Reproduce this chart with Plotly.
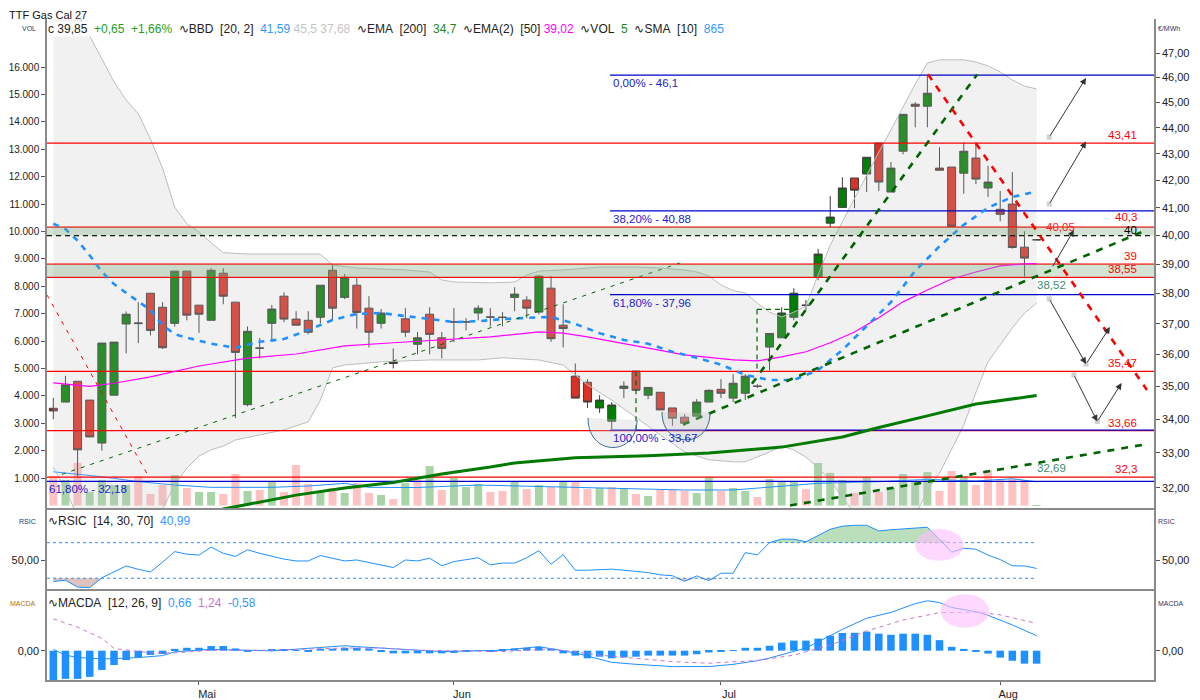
import numpy as np
import plotly.graph_objects as go

# daily candles, trading-day index 0..81
opens = [34.33, 34.52, 35.16, 34.58, 33.29, 34.73, 36.99, 37.00, 38.01, 37.54,
         37.01, 38.76, 37.61, 37.11, 38.69, 37.71, 34.44, 36.20, 37.01, 37.91,
         37.15, 37.11, 37.21, 38.79, 37.87, 38.28, 37.51, 37.01, 35.78, 37.16,
         36.33, 37.31, 36.54, 37.05, 37.05, 37.35, 37.21, 37.20, 37.87, 37.78,
         37.38, 38.18, 36.95, 35.32, 35.13, 34.34, 33.94, 34.94, 35.48, 34.73,
         34.82, 34.34, 34.06, 34.09, 34.52, 34.91, 34.64, 34.79, 35.00, 36.24,
         36.54, 37.21, 37.60, 38.56, 40.44, 41.01, 42.09, 42.24, 43.41, 41.57,
         43.10, 44.93, 44.85, 42.46, 42.50, 42.27, 42.84, 41.72, 40.94, 41.13,
         39.59, 39.85]
highs = [34.65, 35.33, 35.16, 34.58, 36.37, 36.40, 37.40, 37.71, 38.01, 37.71,
         38.76, 38.76, 37.61, 38.86, 38.86, 37.71, 36.91, 36.53, 37.61, 38.04,
         37.41, 37.41, 38.28, 39.00, 38.66, 38.55, 37.91, 37.48, 36.20, 37.51,
         36.73, 37.54, 36.73, 37.51, 37.18, 37.61, 37.51, 37.38, 38.21, 37.91,
         38.62, 38.59, 37.64, 35.72, 35.23, 34.73, 34.52, 35.16, 35.48, 34.97,
         34.82, 34.34, 34.15, 34.61, 34.91, 35.23, 35.38, 35.38, 35.07, 36.68,
         37.54, 38.18, 37.78, 39.53, 41.42, 42.12, 42.09, 42.87, 43.41, 42.69,
         44.53, 45.01, 46.10, 43.25, 42.50, 43.44, 43.44, 42.55, 41.61, 42.31,
         40.15, 39.85]
lows = [34.00, 34.52, 32.32, 33.47, 33.07, 34.73, 36.04, 36.37, 36.62, 36.18,
        36.90, 37.11, 36.70, 37.11, 37.64, 34.03, 34.39, 35.88, 36.44, 37.05,
        36.95, 36.65, 37.01, 37.11, 37.81, 36.84, 36.23, 36.84, 35.56, 36.57,
        36.01, 36.01, 35.88, 36.40, 36.78, 37.11, 36.91, 36.91, 37.41, 37.18,
        37.31, 36.41, 36.23, 34.64, 34.34, 34.19, 33.71, 34.64, 34.88, 34.61,
        34.28, 33.80, 33.80, 34.09, 34.52, 34.64, 34.52, 34.58, 34.95, 35.50,
        36.54, 37.11, 37.44, 38.45, 40.30, 41.01, 40.98, 41.57, 41.61, 41.57,
        42.98, 44.02, 44.02, 42.38, 40.33, 41.51, 41.86, 41.39, 40.51, 39.54,
        38.57, 39.85]
closes = [34.25, 35.05, 33.09, 33.47, 36.37, 36.40, 37.31, 37.02, 36.78, 36.22,
          38.76, 37.28, 37.31, 38.79, 37.91, 36.07, 36.75, 36.21, 37.48, 37.15,
          36.95, 36.72, 38.28, 37.51, 38.55, 37.37, 36.72, 37.35, 35.72, 36.72,
          36.54, 36.65, 36.20, 37.06, 37.06, 37.51, 37.22, 37.21, 37.98, 37.51,
          38.59, 36.51, 36.84, 34.64, 34.52, 34.58, 34.43, 35.01, 34.88, 34.97,
          34.28, 34.03, 33.88, 34.52, 34.88, 34.79, 35.10, 35.32, 35.01, 36.68,
          37.35, 38.01, 37.61, 39.35, 40.66, 41.72, 41.64, 42.87, 41.94, 42.46,
          44.53, 44.85, 45.37, 42.38, 40.33, 43.10, 42.05, 41.94, 40.76, 39.58,
          39.21, 39.85]
volumes = [1077, 930, 1560, 500, 930, 748, 748, 1077, 420, 748,
           1113, 639, 493, 493, 420, 1150, 530, 566, 858, 493,
           1478, 785, 493, 639, 457, 820, 457, 385, 237, 820,
           930, 1440, 566, 1004, 675, 785, 493, 530, 858, 602,
           748, 675, 894, 894, 602, 639, 675, 639, 420, 347,
           566, 602, 530, 457, 1040, 530, 639, 530, 310, 970,
           860, 895, 600, 1550, 1190, 930, 456, 1040, 493, 639,
           1150, 895, 1222, 530, 1259, 1077, 748, 1295, 967, 967,
           930, 5]
idx = list(range(len(closes)))

month_pos = [12, 33, 55, 78]
month_lbl = ["Mai", "Jun", "Jul", "Aug"]
price_ticks = list(range(32, 48))
vol_ticks = list(range(1000, 17000, 1000))

# Bollinger [20, 2]
bb_up_k = [0, 1, 2, 3, 4, 5, 6, 7, 8, 9, 10, 11, 12, 13, 14, 16, 22, 23, 25, 29,
           31, 32, 33, 36, 38, 39, 40, 42, 45, 48, 50, 52, 53, 54, 55, 56, 57, 58,
           59, 60, 61, 62, 63, 64, 65, 66, 67, 68, 69, 70, 71, 72, 73, 75, 76, 77,
           78, 79, 80, 81]
bb_up = [50.5, 50.0, 48.7, 47.73, 46.77, 45.83, 45.10, 44.55, 43.57, 42.46, 41.02,
         40.42, 40.13, 39.74, 39.40, 39.35, 39.35, 38.97, 38.87, 38.80, 38.73, 38.46,
         38.39, 38.36, 38.39, 38.63, 38.76, 38.80, 38.90, 38.90, 38.87, 38.80, 38.73,
         38.60, 38.29, 38.10, 38.02, 37.68, 37.38, 37.22, 37.38, 37.58, 38.63, 39.66,
         40.49, 41.35, 42.21, 43.07, 43.92, 44.82, 45.74, 46.60, 46.73, 46.73, 46.64,
         46.48, 46.23, 45.91, 45.66, 45.54]
bb_mid_k = [0, 1, 2, 3, 4, 5, 6, 7, 8, 9, 10, 11, 13, 15, 17, 19, 21, 23, 25, 27,
            29, 31, 33, 35, 37, 39, 41, 43, 45, 47, 49, 51, 53, 55, 57, 59, 61, 63,
            65, 67, 69, 71, 73, 75, 77, 79, 81]
bb_mid = [40.42, 40.23, 39.82, 39.30, 38.74, 38.32, 38.02, 37.72, 37.45, 36.95, 36.66,
          36.54, 36.35, 36.22, 36.41, 36.50, 36.79, 37.12, 37.32, 37.35, 37.25, 37.15,
          37.05, 37.08, 37.15, 37.19, 37.22, 36.99, 36.69, 36.47, 36.35, 36.09, 35.90,
          35.68, 35.36, 35.20, 35.20, 35.51, 36.15, 36.92, 37.71, 38.77, 39.62, 40.38,
          41.00, 41.39, 41.59]
bb_lo_k = [0, 1, 2, 3, 5, 7, 8, 9, 10, 11, 12, 13, 14, 15, 17, 19, 21, 22, 23, 24,
           27, 29, 31, 35, 37, 40, 42, 43, 44, 46, 48, 50, 52, 54, 56, 57, 59, 60,
           61, 62, 63, 64, 65, 66, 67, 69, 71, 72, 73, 74, 75, 76, 77, 78, 79, 80, 81]
bb_lo = [32.59, 31.93, 31.2, 30.6, 30.2, 30.6, 31.0, 31.4, 32.08, 32.56, 32.91, 33.09,
         33.20, 33.38, 33.53, 33.68, 33.92, 34.58, 35.58, 35.67, 35.77, 35.80, 35.83,
         35.83, 35.90, 35.83, 35.67, 35.36, 35.05, 34.58, 34.04, 33.53, 33.03, 32.80,
         32.74, 32.74, 33.03, 33.20, 33.09, 32.88, 32.56, 32.22, 31.71, 31.3, 30.8,
         30.3, 31.2, 31.93, 32.41, 33.10, 33.82, 34.81, 35.77, 36.31, 36.86, 37.35,
         37.68]

ema50_k = [0, 3, 5, 8, 12, 16, 20, 24, 28, 32, 36, 40, 42, 44, 48, 52, 56, 58, 60,
           62, 64, 66, 68, 70, 72, 74, 76, 78, 80, 81]
ema50 = [35.11, 35.00, 35.10, 35.30, 35.64, 35.89, 36.02, 36.28, 36.38, 36.47, 36.57,
         36.73, 36.69, 36.57, 36.28, 35.99, 35.83, 35.80, 35.93, 36.09, 36.38, 36.73,
         37.19, 37.72, 38.12, 38.49, 38.73, 38.94, 39.01, 39.02]
ema200_k = [10, 14, 20, 24, 28, 32, 36, 38, 43, 49, 54, 60, 65, 68, 72, 76, 81]
ema200 = [31.1, 31.40, 31.79, 31.99, 32.15, 32.39, 32.59, 32.71, 32.86, 32.92, 33.00,
          33.17, 33.47, 33.75, 34.10, 34.46, 34.72]
volsma_k = [0, 4, 7, 10, 13, 18, 21, 24, 26, 30, 35, 43, 52, 56, 60, 63, 68, 72, 76,
            79, 81]
volsma = [1230, 1050, 870, 748, 664, 664, 712, 810, 664, 657, 748, 664, 566, 566, 712,
          810, 870, 955, 895, 978, 865]

rsi = [26.3, 27.7, 20.0, 19.4, 30.5, 37.0, 43.8, 40.0, 37.0, 48.0,
       59.9, 57.0, 56.0, 65.0, 58.0, 54.5, 62.0, 58.0, 54.5, 51.5,
       49.4, 49.4, 55.5, 52.5, 49.4, 50.5, 47.5, 44.5, 42.0, 50.5,
       49.4, 52.5, 44.0, 48.7, 51.0, 53.0, 45.0, 47.0, 47.0, 53.0,
       61.0, 45.7, 56.5, 39.0, 39.0, 39.5, 40.2, 39.0, 37.5, 36.3,
       33.8, 32.8, 26.5, 32.6, 27.3, 35.6, 35.6, 58.8, 56.2, 70.0,
       74.0, 73.8, 71.0, 78.0, 85.0, 88.5, 89.5, 89.5, 83.1, 84.5,
       85.4, 86.0, 87.3, 74.0, 59.2, 63.7, 62.6, 56.0, 51.0, 44.0,
       43.8, 41.0]
macd_hist = [-1.35, -1.26, -1.26, -1.17, -0.86, -0.64, -0.42, -0.30, -0.19, -0.15,
             0.08, 0.13, 0.13, 0.21, 0.21, 0.10, -0.04, 0.01, 0.06, 0.06,
             0.01, -0.04, 0.09, 0.09, 0.13, 0.13, 0.10, -0.04, -0.12, -0.12,
             -0.12, -0.12, -0.12, -0.10, -0.05, 0.02, -0.04, 0.07, 0.10, 0.13,
             0.17, 0.09, -0.12, -0.22, -0.34, -0.27, -0.34, -0.30, -0.27, -0.22,
             -0.22, -0.22, -0.22, -0.16, -0.08, -0.04, 0.01, 0.13, 0.13, 0.22,
             0.36, 0.45, 0.45, 0.54, 0.67, 0.79, 0.80, 0.85, 0.76, 0.71,
             0.76, 0.76, 0.71, 0.47, 0.17, 0.08, -0.04, -0.13, -0.31, -0.45,
             -0.58, -0.58]
macd_k = [0, 1, 2, 4, 7, 9, 10, 13, 18, 24, 25, 29, 32, 37, 40, 43, 45, 46, 48, 51,
          54, 56, 58, 59, 62, 64, 65, 67, 69, 71, 72, 73, 74, 76, 77, 79, 81]
macd_line = [0.06, -0.20, -0.30, -0.37, -0.31, -0.22, -0.05, 0.06, -0.01, 0.22, 0.18,
             0.06, -0.04, 0.02, 0.18, -0.10, -0.37, -0.52, -0.61, -0.71, -0.71, -0.61,
             -0.45, -0.33, 0.12, 0.66, 0.95, 1.45, 1.71, 2.10, 2.23, 2.15, 1.93, 1.74,
             1.58, 1.15, 0.67]
sig_k = [0, 2, 4, 5, 8, 10, 13, 18, 24, 27, 30, 37, 41, 45, 48, 51, 54, 58, 61, 64,
         67, 70, 73, 76, 78, 81]
sig_line = [1.42, 1.05, 0.55, 0.10, -0.10, -0.10, 0.02, 0.02, 0.12, 0.12, 0.02, -0.04,
            0.08, -0.20, -0.34, -0.49, -0.56, -0.44, -0.20, 0.25, 0.88, 1.37, 1.70,
            1.72, 1.60, 1.22]

# drawn levels
red_levels = [43.41, 40.3, 39.0, 38.55, 35.47, 33.66, 32.3]
red_names = ["43,41", "40,3", "39", "38,55", "35,47", "33,66", "32,3"]
zones = [(40.0, 40.3), (38.55, 39.0)]
dash_level = 40.0
fib_levels = [46.1, 40.88, 37.96, 33.67]
fib_names = ["0,00% - 46,1", "38,20% - 40,88", "61,80% - 37,96", "100,00% - 33,67"]
fib_from = 45.86
fib2_level = 32.18
fib2_name = "61,80% - 32,18"

# trend lines: (k0, p0, k1, p1)
thin_green = [(0.7, 32.38, 51.6, 39.04)]
thick_green = [(57.55, 35.08, 76.1, 46.13), (51.87, 33.84, 90.09, 40.20),
               (60.69, 31.50, 90.09, 33.26)]
red_thick = [(72.05, 46.14, 90.09, 34.89)]
red_thin = [(-0.52, 37.95, 7.88, 32.30)]
box_lines = [(48.0, 35.47, 48.0, 33.65), (57.97, 37.47, 57.97, 35.47),
             (57.97, 37.47, 61.6, 37.47)]
arrows = [(82.04, 43.64, 85.07, 45.99), (82.04, 41.13, 85.07, 43.47),
          (82.26, 38.87, 84.07, 40.20), (82.04, 37.82, 85.07, 35.70),
          (85.07, 35.70, 87.04, 36.89), (84.07, 35.36, 86.0, 33.93),
          (86.0, 33.93, 88.0, 35.11)]
anchors_k = [82.04, 82.04, 82.04, 85.07, 84.07, 86.0]
anchors_p = [43.64, 41.13, 37.82, 35.70, 35.36, 33.93]

X_RANGE = [-0.52, 90.67]
X_END = 90.67
# plot-area edges in page pixels; the page body adds an 8 px offset
OFF = 8
L, R, T, B = 47, 1154, 19, 680
W, H = 1200 - OFF, 700 - OFF
FONT = "Liberation Sans"


def pxx(x):
    return (x - L) / (R - L)


def pxy(y):
    return (B - y) / (B - T)


def segs(lines):
    xs, ys = [], []
    for a, b, c, d in lines:
        xs += [a, c, None]
        ys += [b, d, None]
    return xs, ys


fig = go.Figure()

# volume on the left axis (drawn first, under the price traces)
vol_col = ["#ffc2c2" if closes[0] < opens[0] else "#a8d4a8"]
for i in range(1, len(closes)):
    vol_col.append("#a8d4a8" if closes[i] >= closes[i - 1] else "#ffc2c2")
fig.add_trace(go.Bar(x=idx, y=volumes, marker=dict(color=vol_col, line=dict(width=0)),
                     width=0.66, xaxis="x", yaxis="y"))
fig.add_trace(go.Scatter(x=volsma_k, y=volsma, mode="lines", xaxis="x", yaxis="y",
                         line=dict(color="#1e90ff", width=1)))

P = dict(xaxis="x", yaxis="y2")
# Bollinger band
fig.add_trace(go.Scatter(x=bb_lo_k, y=bb_lo, mode="lines", line=dict(color="#bdbdbd", width=1), **P))
fig.add_trace(go.Scatter(x=bb_up_k, y=bb_up, mode="lines", line=dict(color="#bdbdbd", width=1),
                         fill="tonexty", fillcolor="rgba(190,190,190,0.22)", **P))

# levels
for lv in red_levels:
    fig.add_trace(go.Scatter(x=[X_RANGE[0], X_END], y=[lv, lv], mode="lines",
                             line=dict(color="#ff0000", width=1.3), **P))
fig.add_trace(go.Scatter(x=[X_RANGE[0], X_END], y=[fib2_level] * 2, mode="lines",
                         line=dict(color="#0000cd", width=1.3), **P))
for lv in fib_levels:
    fig.add_trace(go.Scatter(x=[fib_from, X_END], y=[lv, lv], mode="lines",
                             line=dict(color="#0000cd", width=1.3), **P))
fig.add_trace(go.Scatter(x=[X_RANGE[0], X_END], y=[dash_level] * 2, mode="lines",
                         line=dict(color="#000000", width=1.2, dash="5px,4px"), **P))

# moving averages
fig.add_trace(go.Scatter(x=ema200_k, y=ema200, mode="lines", line=dict(color="#007a00", width=3), **P))
fig.add_trace(go.Scatter(x=ema50_k, y=ema50, mode="lines", line=dict(color="#ff00ff", width=1.2), **P))
fig.add_trace(go.Scatter(x=bb_mid_k, y=bb_mid, mode="lines",
                         line=dict(color="#1e90ff", width=2.6, dash="6px,6px"), **P))

xs, ys = segs(thin_green)
fig.add_trace(go.Scatter(x=xs, y=ys, mode="lines", line=dict(color="#006400", width=1, dash="4px,6px"), **P))
xs, ys = segs(box_lines)
fig.add_trace(go.Scatter(x=xs, y=ys, mode="lines", line=dict(color="#006400", width=1.2, dash="5px,4px"), **P))
xs, ys = segs(red_thin)
fig.add_trace(go.Scatter(x=xs, y=ys, mode="lines", line=dict(color="#ff0000", width=1, dash="4px,6px"), **P))

# candles
fig.add_trace(go.Candlestick(
    x=idx, open=opens, high=highs, low=lows, close=closes, whiskerwidth=0,
    increasing=dict(line=dict(color="#3c3c3c", width=1), fillcolor="#008000"),
    decreasing=dict(line=dict(color="#3c3c3c", width=1), fillcolor="#dc3226"),
    hoverinfo="skip", **P))

# shaded zones over candles
for lo, hi in zones:
    fig.add_trace(go.Scatter(x=[X_RANGE[0], X_END], y=[lo, lo], mode="lines",
                             line=dict(width=0), **P))
    fig.add_trace(go.Scatter(x=[X_RANGE[0], X_END], y=[hi, hi], mode="lines", line=dict(width=0),
                             fill="tonexty", fillcolor="rgba(120,170,120,0.32)", **P))

xs, ys = segs(thick_green)
fig.add_trace(go.Scatter(x=xs, y=ys, mode="lines", line=dict(color="#006400", width=2.6, dash="7px,7px"), **P))
xs, ys = segs(red_thick)
fig.add_trace(go.Scatter(x=xs, y=ys, mode="lines", line=dict(color="#ff0000", width=2.6, dash="7px,7px"), **P))
fig.add_trace(go.Scatter(x=anchors_k, y=anchors_p, mode="markers",
                         marker=dict(symbol="square", size=5, color="#d0d0d0"), **P))

# RSI panel
rsi_hi = np.maximum(rsi, 70)
rsi_lo = np.minimum(rsi, 30)
RS = dict(xaxis="x2", yaxis="y3")
fig.add_trace(go.Scatter(x=idx, y=[70] * len(idx), mode="lines", line=dict(width=0), **RS))
fig.add_trace(go.Scatter(x=idx, y=rsi_hi, mode="lines", line=dict(width=0), fill="tonexty",
                         fillcolor="rgba(120,190,120,0.5)", **RS))
fig.add_trace(go.Scatter(x=idx, y=[30] * len(idx), mode="lines", line=dict(width=0), **RS))
fig.add_trace(go.Scatter(x=idx, y=rsi_lo, mode="lines", line=dict(width=0), fill="tonexty",
                         fillcolor="rgba(180,120,110,0.45)", **RS))
for lv in (70, 30):
    fig.add_trace(go.Scatter(x=[X_RANGE[0], idx[-1]], y=[lv, lv], mode="lines",
                             line=dict(color="#1e90ff", width=1, dash="dot"), xaxis="x2", yaxis="y4"))
fig.add_trace(go.Scatter(x=idx, y=rsi, mode="lines", line=dict(color="#1e90ff", width=1), **RS))

# MACD panel
MA = dict(xaxis="x3", yaxis="y5")
fig.add_trace(go.Bar(x=idx, y=macd_hist, width=0.62, marker=dict(color="#1e90ff", line=dict(width=0)), **MA))
fig.add_trace(go.Scatter(x=macd_k, y=macd_line, mode="lines", line=dict(color="#1e90ff", width=1), **MA))
fig.add_trace(go.Scatter(x=sig_k, y=sig_line, mode="lines", line=dict(color="#d070d0", width=1, dash="4px,4px"),
                         xaxis="x3", yaxis="y6"))

ann = []


def plab(k, p, text, color, xa="left", ya="middle", size=11.5, ysh=0):
    ann.append(dict(x=k, y=np.log10(p), xref="x", yref="y2", text=text, showarrow=False,
                    xanchor=xa, yanchor=ya, yshift=ysh, font=dict(color=color, size=size)))


for lv, nm in zip(red_levels, red_names):
    plab(89.45, lv, nm, "#ff0000", xa="right", ya="bottom", ysh=2 if nm == "40,3" else 0)
plab(89.45, dash_level, "40", "#000000", xa="right", ya="bottom", ysh=-2)
for lv, nm in zip(fib_levels, fib_names):
    plab(fib_from + 0.05, lv, nm, "#1c1ccc", ya="top")
plab(X_RANGE[0], fib2_level, fib2_name, "#1c1ccc", ya="top")
plab(81.6, 40.31, "40,05", "#ff2020")
plab(80.9, 38.29, "38,52", "#3e8e6e")
plab(80.9, 32.56, "32,69", "#3e8e6e")

for tk, tp, hk, hp in arrows:
    ann.append(dict(x=hk, y=np.log10(hp), ax=tk, ay=np.log10(tp), xref="x", yref="y2",
                    axref="x", ayref="y2", text="", showarrow=True, arrowhead=2,
                    arrowsize=1.3, arrowwidth=1, arrowcolor="#333333"))

nb = "\u00a0"
s1, s2 = nb, nb * 2
main_leg = (f"c 39,85{s2}<span style='color:#22a022'>+0,65{s2}+1,66%</span>{s2}"
            f"\u223fBBD{s2}[20, 2]{s2}<span style='color:#3399ff'>41,59</span>{s1}"
            f"<span style='color:#c4c4c4'>45,5{s1}37,68</span>{s2}"
            f"\u223fEMA{s2}[200]{s2}<span style='color:#1a8a1a'>34,7</span>{s2}"
            f"\u223fEMA(2){s2}[50]{s1}<span style='color:#ff00ff'>39,02</span>{s2}"
            f"\u223fVOL{s2}<span style='color:#1a8a1a'>5</span>{s2}"
            f"\u223fSMA{s2}[10]{s2}<span style='color:#3399ff'>865</span>")
rsi_leg = f"\u223fRSIC{s2}[14, 30, 70]{s2}<span style='color:#3399ff'>40,99</span>"
macd_leg = (f"\u223fMACDA{s2}[12, 26, 9]{s2}<span style='color:#3399ff'>0,66</span>{s2}"
            f"<span style='color:#d070d0'>1,24</span>{s2}<span style='color:#3399ff'>-0,58</span>")


def plabel(x, y, text, size=12, color="#222222", xa="left", ya="middle", bg=None):
    d = dict(x=pxx(x), y=pxy(y), xref="paper", yref="paper", text=text, showarrow=False,
             xanchor=xa, yanchor=ya, borderpad=0, font=dict(size=size, color=color))
    if bg:
        d["bgcolor"] = bg
    ann.append(d)


plabel(OFF, OFF, "TTF Gas Cal 27", size=11, color="#111111", ya="top")
plabel(47, 29, main_leg, size=12, bg="rgba(255,255,255,0.9)")
plabel(47, 521, rsi_leg, size=12)
plabel(47, 603, macd_leg, size=12)
plabel(37, 28, "VOL", size=7, color="#2a3a6a", xa="right")
plabel(1157, 28, "\u20ac/MWh", size=7, color="#2a3a6a")
plabel(37, 521, "RSIC", size=7, color="#2a3a6a", xa="right")
plabel(1157, 521, "RSIC", size=7, color="#2a3a6a")
plabel(37, 603, "MACDA", size=7, color="#b07020", xa="right")
plabel(1157, 603, "MACDA", size=7, color="#2a3a6a")


def arc(xl, yl, xr, yr, yc):
    return (f"M {pxx(xl)},{pxy(yl)} C {pxx(xl)},{pxy(yc)} {pxx(xr)},{pxy(yc)} "
            f"{pxx(xr)},{pxy(yr)}")


shapes = [
    dict(type="path", xref="paper", yref="paper", path=arc(588, 418, 637, 420, 457),
         line=dict(color="#3a6a8a", width=1), fillcolor="rgba(200,200,200,0.3)"),
    dict(type="path", xref="paper", yref="paper", path=arc(662, 412, 710, 413, 449),
         line=dict(color="#3a6a8a", width=1), fillcolor="rgba(200,200,200,0.3)"),
    dict(type="circle", xref="x2", yref="y3", x0=71.0, x1=75.0, y0=49.6, y1=85.2,
         fillcolor="rgba(255,190,255,0.6)", line=dict(width=0), layer="above"),
    dict(type="circle", xref="x3", yref="y5", x0=73.1, x1=77.1, y0=1.02, y1=2.52,
         fillcolor="rgba(255,190,255,0.6)", line=dict(width=0), layer="above"),
]

axc = "#8a8a8a"
tf = dict(size=11, color="#222222")
xbase = dict(range=X_RANGE, showgrid=False, zeroline=False, showline=True, linecolor=axc,
             linewidth=2, automargin=False)
ybase = dict(showgrid=False, zeroline=False, showline=True, linecolor=axc, linewidth=1.5,
             ticks="outside", ticklen=4, tickcolor="#555555", tickfont=tf, automargin=False)

fig.update_layout(
    width=W, height=H,
    margin=dict(l=L - OFF, r=W - (R - OFF), t=T - OFF, b=H - (B - OFF), autoexpand=False),
    paper_bgcolor="white", plot_bgcolor="white", separators=",.", showlegend=False,
    font=dict(family=FONT, size=11, color="#222222"),
    boxgap=0.34, boxgroupgap=0,
    xaxis=dict(**xbase, anchor="y", showticklabels=False, rangeslider=dict(visible=False)),
    xaxis2=dict(**xbase, anchor="y3", matches="x", showticklabels=False),
    xaxis3=dict(**xbase, anchor="y5", matches="x", tickvals=month_pos, ticktext=month_lbl,
                ticks="outside", ticklen=3, tickcolor="#555555", ticklabelshift=8,
                ticklabelstandoff=0, tickfont=dict(size=11, color="#222222")),
    yaxis=dict(**{**ybase, "tickfont": dict(size=10, color="#222222")}, domain=[0.2602, 1],
               range=[-91, 17755], side="left", anchor="x", tickvals=vol_ticks, tickformat=",.0f"),
    yaxis2=dict(**ybase, overlaying="y", side="right", anchor="x", type="log",
                range=[np.log10(31.43), np.log10(48.45)], tickvals=price_ticks, tickformat=".2f"),
    yaxis3=dict(**ybase, domain=[0.1377, 0.2572], range=[17.9, 106.7], side="left", anchor="x2",
                tickvals=[50], tickformat=".2f"),
    yaxis4=dict(**ybase, overlaying="y3", range=[17.9, 106.7], side="right", anchor="x2",
                tickvals=[50], tickformat=".2f"),
    yaxis5=dict(**ybase, domain=[0, 0.1346], range=[-1.31, 2.665], side="left", anchor="x3",
                tickvals=[0], tickformat=".2f"),
    yaxis6=dict(**ybase, overlaying="y5", range=[-1.31, 2.665], side="right", anchor="x3",
                tickvals=[0], tickformat=".2f"),
    annotations=ann, shapes=shapes,
)

fig.write_html("out.html")
